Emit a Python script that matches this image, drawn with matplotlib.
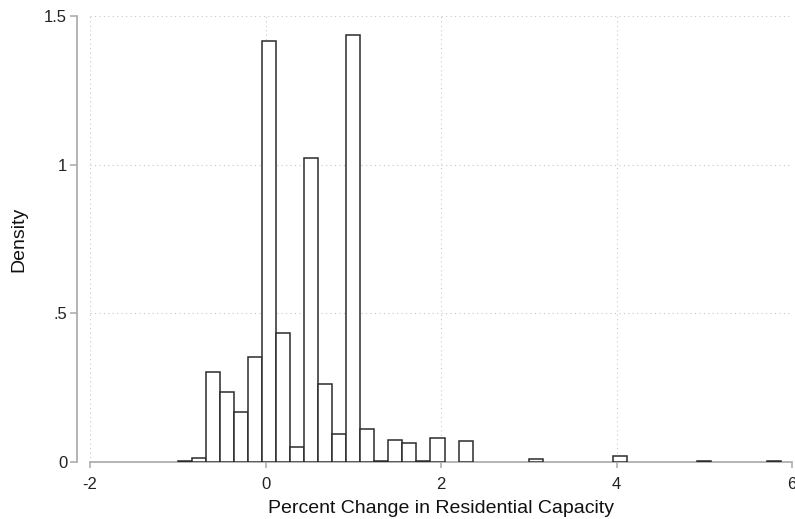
import matplotlib
matplotlib.use('agg')
import matplotlib.pyplot as plt
import numpy as np

plt.rcParams['font.family'] = ['Liberation Sans', 'DejaVu Sans']

# histogram bins: start, width and density per bin
bin_start = -1.0
bin_width = 0.16
density = [0.003, 0.013, 0.302, 0.237, 0.169, 0.354, 1.416, 0.435, 0.052, 1.021,
           0.263, 0.093, 1.436, 0.110, 0.003, 0.075, 0.064, 0.002, 0.082, 0.0,
           0.071, 0.0, 0.0, 0.0, 0.0, 0.011, 0.0, 0.0, 0.0, 0.0,
           0.0, 0.021, 0.0, 0.0, 0.0, 0.0, 0.0, 0.003, 0.0, 0.0,
           0.0, 0.0, 0.003]

xticks = [-2, 0, 2, 4, 6]
yticks = [0, 0.5, 1, 1.5]
yticklabels = ['0', '.5', '1', '1.5']

edges = bin_start + bin_width * np.arange(len(density))
dens = np.array(density)
keep = dens > 0

fig = plt.figure(figsize=(7.95, 5.19), dpi=100)
ax = fig.add_axes([90/795, 1-462/519, 702/795, 446/519])

ax.bar(edges[keep], dens[keep], width=bin_width, align='edge',
       facecolor='white', edgecolor='#2b2b2b', linewidth=1.1, zorder=3)

ax.set_xlim(-2, 6)
ax.set_ylim(0, 1.5)
ax.set_xticks(xticks)
ax.set_xticklabels([str(t) for t in xticks])
ax.set_yticks(yticks)
ax.set_yticklabels(yticklabels)

ax.grid(True, linestyle=(0, (1, 3)), color='#c8c8c8', linewidth=0.8, zorder=0)

for s in ['top', 'right']:
    ax.spines[s].set_visible(False)
for s in ['left', 'bottom']:
    ax.spines[s].set_color('#a8a8a8')
    ax.spines[s].set_linewidth(1.2)
ax.spines['left'].set_position(('outward', 9.4))

ax.tick_params(axis='both', colors='#a8a8a8', labelcolor='#222222',
               labelsize=12, width=1.1)
ax.tick_params(axis='y', length=5, pad=2)
ax.tick_params(axis='x', length=4.5, pad=6)

ax.set_xlabel('Percent Change in Residential Capacity', fontsize=14,
              color='#111111', labelpad=6)
ax.set_ylabel('Density', fontsize=14, color='#111111', labelpad=12)

fig.savefig('out.png', dpi=100)
